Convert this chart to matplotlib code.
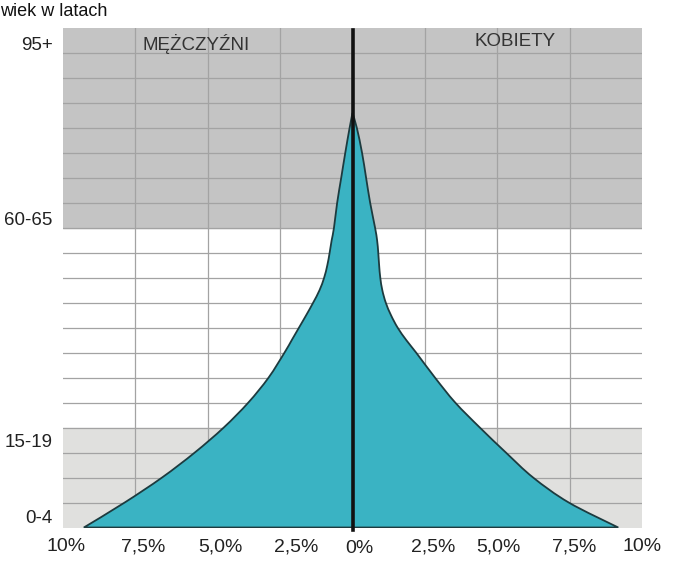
import matplotlib

matplotlib.use("Agg")
import matplotlib.pyplot as plt
import numpy as np
from matplotlib.patches import PathPatch
from matplotlib.path import Path

plt.rcParams["font.family"] = ["Liberation Sans", "DejaVu Sans"]

# outline of the pyramid: height in age-group rows (0 = bottom of 0-4),
# width in % of population; last point is the apex
ROWS = [0, 1, 2, 3, 4, 5, 6, 7, 7.5, 8, 8.5, 9, 9.5, 10, 10.5, 11, 11.5,
        12, 13, 14, 15, 16, 16.6]
MEN = [9.28, 7.87, 6.58, 5.45, 4.45, 3.60, 2.90, 2.35, 2.10, 1.85, 1.60,
       1.36, 1.14, 0.98, 0.87, 0.79, 0.72, 0.64, 0.53, 0.39, 0.25, 0.10, 0.0]
WOMEN = [9.18, 7.47, 6.24, 5.30, 4.40, 3.55, 2.85, 2.20, 1.86, 1.56, 1.33,
         1.15, 1.03, 0.96, 0.92, 0.89, 0.85, 0.78, 0.61, 0.47, 0.33, 0.15, 0.0]

N_GROUPS = 20
AGE_LABELS = ["0-4", "15-19", "60-65", "95+"]
AGE_LABEL_Y = [0.38, 3.42, 12.3, 19.3]
X_LABELS = ["10%", "7,5%", "5,0%", "2,5%", "0%", "2,5%", "5,0%", "7,5%", "10%"]
X_LABEL_POS = [-9.9, -7.24, -4.55, -1.93, 0.24, 2.79, 5.03, 7.66, 10.0]

TEAL = "#3ab3c3"
EDGE = "#1d3b3f"
DARK_GREY = "#c4c4c4"
LIGHT_GREY = "#e0e0de"
GRID = "#a3a3a3"


def smooth_segments(pts):
    """Catmull-Rom through pts, returned as cubic bezier (CURVE4) pieces."""
    pts = np.asarray(pts, float)
    verts = []
    n = len(pts)
    for i in range(n - 1):
        p0 = pts[max(i - 1, 0)]
        p1 = pts[i]
        p2 = pts[i + 1]
        p3 = pts[min(i + 2, n - 1)]
        c1 = p1 + (p2 - p0) / 6
        c2 = p2 - (p3 - p1) / 6
        verts += [c1, c2, p2]
    return verts


fig = plt.figure(figsize=(6.89, 5.70), dpi=100)
ax = fig.add_axes([63 / 689, 42.5 / 570, 579 / 689, 499.5 / 570])
ax.set_xlim(-10, 10)
ax.set_ylim(0, N_GROUPS)

# background bands: elderly (dark) and young (light)
ax.axhspan(12, N_GROUPS, color=DARK_GREY, zorder=0)
ax.axhspan(0, 4, color=LIGHT_GREY, zorder=0)
for r in range(1, N_GROUPS):
    ax.axhline(r, color=GRID, linewidth=0.9, zorder=1)
for v in (-7.5, -5, -2.5, 2.5, 5, 7.5):
    ax.axvline(v, color=GRID, linewidth=0.9, zorder=1)

left = list(zip(-np.array(MEN), ROWS))
right = list(zip(WOMEN, ROWS))[::-1]
verts = [left[0]] + smooth_segments(left) + smooth_segments(right) + [left[0], left[0]]
codes = ([Path.MOVETO] + [Path.CURVE4] * (3 * (len(left) - 1))
         + [Path.CURVE4] * (3 * (len(right) - 1)) + [Path.LINETO, Path.CLOSEPOLY])
ax.add_patch(PathPatch(Path(verts, codes), facecolor=TEAL, edgecolor=EDGE,
                       linewidth=1.3, zorder=2))

ax.plot([0, 0], [-0.12, 19.9], color="#111111", linewidth=2.6, zorder=3,
        clip_on=False)

for s in ax.spines.values():
    s.set_visible(False)
ax.set_xticks([])
ax.set_yticks([])

for lab, y in zip(AGE_LABELS, AGE_LABEL_Y):
    ax.text(-10.35, y, lab, ha="right", va="center", fontsize=13.5, color="#222222")
for lab, x in zip(X_LABELS, X_LABEL_POS):
    yy = -0.85 if lab == "0%" else -0.78
    ax.text(x, yy, lab, ha="center", va="center", fontsize=14, color="#222222")

ax.text(-5.4, 19.35, "MĘŻCZYŹNI", ha="center", va="center", fontsize=13.5,
        color="#333333", zorder=4)
ax.text(5.6, 19.45, "KOBIETY", ha="center", va="center", fontsize=13.5,
        color="#333333", zorder=4)
fig.text(0.0, 1 - 12 / 570, "wiek w latach", ha="left", va="center",
         fontsize=13, color="#111111")

fig.savefig("out.png", dpi=100)
